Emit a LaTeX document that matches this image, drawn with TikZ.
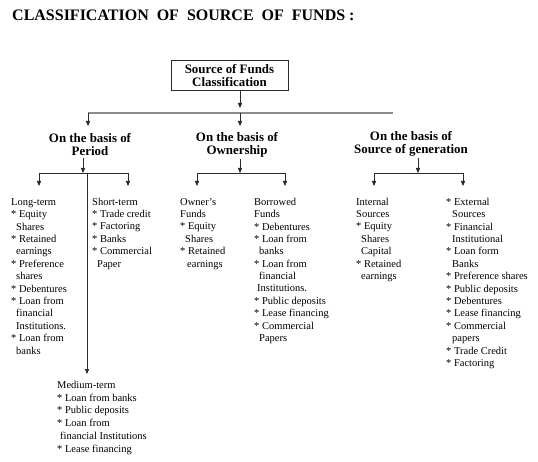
\documentclass[tikz,border=0pt]{standalone}
\usepackage{fontspec}
\setmainfont{Liberation Serif}
\usetikzlibrary{arrows.meta}
\definecolor{linec}{HTML}{2B2B2B}
\definecolor{topc}{HTML}{8A8A8A}
\newcommand\hin{\hspace*{5pt}}
\newcommand\fl{\rule{0pt}{8pt}}
\begin{document}
\begin{tikzpicture}[x=1pt,y=-1pt,
  arr/.style={draw=linec, line width=0.8pt, -{Triangle[length=5pt,width=4.2pt]}},
  ln/.style={draw=linec, line width=0.8pt},
  topline/.style={draw=topc, line width=1.4pt},
  head/.style={font=\fontsize{12.9}{13}\selectfont\bfseries, align=center, inner sep=2pt},
  leaf/.style={font=\fontsize{10.5}{12.4}\selectfont, align=left, anchor=north west, inner sep=0pt},
]
\useasboundingbox (0,0) rectangle (538,462);

% title
\node[anchor=base west, inner sep=0pt, font=\fontsize{16}{20}\selectfont\bfseries] (title) at (12,21)
  {CLASSIFICATION\ \ OF\ \ SOURCE\ \ OF\ \ FUNDS\ :};

% root box
\node[draw=linec, line width=1pt, minimum width=117pt, minimum height=30pt, head, inner sep=0pt] (box) at (229.5,76)
  {Source of Funds\\Classification};

% headers
\node[head] (per) at (90,144.5) {On the basis of\\Period};
\node[head] (own) at (237,144.5) {On the basis of\\Ownership};
\node[head] (gen) at (411,143.5) {On the basis of\\Source of generation};

% top connectors
\coordinate (boxTip) at (240,108);
\draw[arr] (box.south -| boxTip) -- (boxTip);
\coordinate (hL) at (88,113);
\coordinate (hO) at (240,113);
\coordinate (hR) at (393,113);
\draw[topline] (hL) -- (hR);
\coordinate (perTop) at (88,126);
\coordinate (ownTop) at (240,126);
\draw[arr] (hL) -- (perTop);
\draw[arr] (hO) -- (ownTop);

% leaves
\node[leaf] (lt) at (11,197) {\fl Long-term\\* Equity\\\hin Shares\\* Retained\\\hin earnings\\* Preference\\\hin shares\\* Debentures\\* Loan from\\\hin financial\\\hin Institutions.\\* Loan from\\\hin banks};
\node[leaf] (st) at (92,197) {\fl Short-term\\* Trade credit\\* Factoring\\* Banks\\* Commercial\\\hin Paper};
\node[leaf, font=\fontsize{10.5}{12.8}\selectfont] (mt) at (57,380) {\fl Medium-term\\* Loan from banks\\* Public deposits\\* Loan from\\\hspace*{3pt}financial Institutions\\* Lease financing};
\node[leaf] (of) at (180,197) {\fl Owner's\\Funds\\* Equity\\\hin Shares\\* Retained\\\hspace*{7pt}earnings};
\node[leaf] (bf) at (254,197) {\fl Borrowed\\Funds\\* Debentures\\* Loan from\\\hin banks\\* Loan from\\\hin financial\\\hspace*{3pt}Institutions.\\* Public deposits\\* Lease financing\\* Commercial\\\hin Papers};
\node[leaf] (is) at (356,197) {\fl Internal\\Sources\\* Equity\\\hin Shares\\\hin Capital\\* Retained\\\hin earnings};
\node[leaf] (es) at (446,197) {\fl * External\\\hspace*{6pt}Sources\\* Financial\\\hspace*{6pt}Institutional\\* Loan form\\\hspace*{6pt}Banks\\* Preference shares\\* Public deposits\\* Debentures\\* Lease financing\\* Commercial\\\hspace*{6pt}papers\\* Trade Credit\\* Factoring};

% period branch
\coordinate (pA) at (83,173);
\coordinate (pB) at (39,173);
\coordinate (pE) at (128,173);
\coordinate (pM) at (87,173);
\coordinate (ltTop) at (39,186);
\coordinate (stTop) at (128,186);
\coordinate (mtTop) at (87,374);
\draw[arr] (per.south -| pA) -- (pA);
\draw[ln] (pB) -- (pE);
\draw[arr] (pB) -- (ltTop);
\draw[arr] (pE) -- (stTop);
\draw[arr] (pM) -- (mtTop);

% ownership branch
\coordinate (oA) at (240,173);
\coordinate (oB) at (197,173);
\coordinate (oE) at (285,173);
\coordinate (ofTop) at (197,186);
\coordinate (bfTop) at (285,186);
\draw[arr] (own.south -| oA) -- (oA);
\draw[ln] (oB) -- (oE);
\draw[arr] (oB) -- (ofTop);
\draw[arr] (oE) -- (bfTop);

% generation branch
\coordinate (gA) at (418,173);
\coordinate (gB) at (374,173);
\coordinate (gE) at (463,173);
\coordinate (isTop) at (374,186);
\coordinate (esTop) at (463,186);
\draw[arr] (gen.south -| gA) -- (gA);
\draw[ln] (gB) -- (gE);
\draw[arr] (gB) -- (isTop);
\draw[arr] (gE) -- (esTop);
\end{tikzpicture}
\end{document}
